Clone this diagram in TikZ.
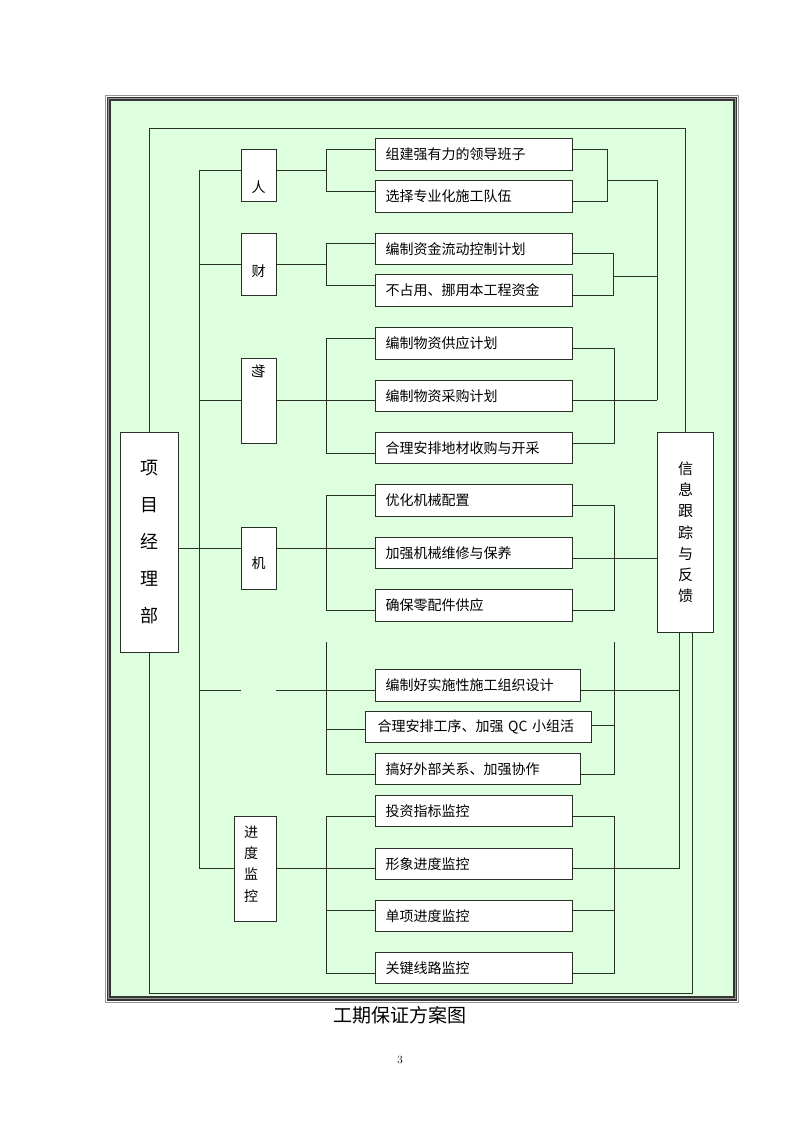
\documentclass[tikz,border=0pt]{standalone}
\usepackage{fontspec}
\newfontfamily\cjk{Noto Sans CJK SC}
\definecolor{lc}{RGB}{40,48,40}
\definecolor{bgg}{RGB}{221,255,221}
\definecolor{frdark}{RGB}{52,52,52}
\definecolor{frgray}{RGB}{150,150,150}
\begin{document}
\begin{tikzpicture}[x=1pt,y=-1pt,
  ln/.style={draw=lc, line width=0.9pt},
  itembox/.style={draw=lc, fill=white, line width=1pt, anchor=north west,
    minimum height=31pt, minimum width=197pt, text width=177pt, inner xsep=10pt,
    inner ysep=0pt, align=left, font=\cjk\fontsize{14}{16}\selectfont},
  catbox/.style={draw=lc, fill=white, line width=1pt, anchor=north west,
    minimum width=35pt, inner sep=0pt},
  cattext/.style={font=\cjk\fontsize{14}{16}\selectfont, inner sep=0pt},
]
\useasboundingbox (0,0) rectangle (800,1132);
% frame
\fill[bgg] (110,100) rectangle (734,997);
\draw[frgray, line width=1pt] (105,95) rectangle (738,1002);
\draw[frdark, line width=4.5pt] (108.75,98.75) rectangle (735,998.5);
\draw[frgray, line width=0.6pt] (108.75,98.75) rectangle (735,998.5);

% main boxes
\node[draw=lc, fill=white, line width=1pt, anchor=north west, minimum width=58pt, minimum height=220pt,
  inner sep=0pt, align=center, font=\cjk\fontsize{18}{37}\selectfont] (pm) at (120,432) {项\\目\\经\\理\\部};
\node[draw=lc, fill=white, line width=1pt, anchor=north west, minimum width=56pt, minimum height=200pt,
  inner sep=0pt, align=center, font=\cjk\fontsize{15}{21.2}\selectfont] (info) at (657,432) {信\\息\\跟\\踪\\与\\反\\馈};

% category boxes
\node[catbox, minimum height=52pt] (ren) at (241,149) {};
\node[cattext] (rent) at (258.5,187) {人};
\node[catbox, minimum height=62pt] (cai) at (241,233) {};
\node[cattext] (cait) at (258.5,271) {财};
\node[catbox, minimum height=85pt] (wu) at (241,358) {};
\node[cattext, rotate=-90] (wut) at (258.5,371) {物};
\node[catbox, minimum height=62pt] (ji) at (241,527) {};
\node[cattext] (jit) at (258.5,563) {机};
\node[catbox, minimum width=42pt, minimum height=105pt] (jd) at (234,816) {};
\node[inner sep=0pt, align=center, font=\cjk\fontsize{14}{21.3}\selectfont] (jdt) at (251,864) {进\\度\\监\\控};
\coordinate (gapL) at (241,690);
\coordinate (gapR) at (276,690);

% items
\node[itembox, minimum height=32pt] (a1) at (375,138) {组建强有力的领导班子};
\node[itembox, minimum height=32pt] (a2) at (375,180) {选择专业化施工队伍};
\node[itembox] (b1) at (375,233) {编制资金流动控制计划};
\node[itembox, minimum height=32pt] (b2) at (375,274) {不占用、挪用本工程资金};
\node[itembox, minimum height=32pt] (c1) at (375,327) {编制物资供应计划};
\node[itembox] (c2) at (375,380) {编制物资采购计划};
\node[itembox] (c3) at (375,432) {合理安排地材收购与开采};
\node[itembox, minimum height=32pt] (d1) at (375,484) {优化机械配置};
\node[itembox] (d2) at (375,537) {加强机械维修与保养};
\node[itembox, minimum height=32pt] (d3) at (375,589) {确保零配件供应};
\node[itembox, minimum width=205pt, text width=185pt, minimum height=32pt] (e1) at (375,669) {编制好实施性施工组织设计};
\node[itembox, minimum width=226pt, text width=202pt, inner xsep=12pt] (e2) at (365,711) {合理安排工序、加强 QC 小组活};
\node[itembox, minimum width=205pt, text width=185pt] (e3) at (375,753) {搞好外部关系、加强协作};
\node[itembox] (f1) at (375,795) {投资指标监控};
\node[itembox] (f2) at (375,848) {形象进度监控};
\node[itembox] (f3) at (375,900) {单项进度监控};
\node[itembox] (f4) at (375,952) {关键线路监控};

% outer loop
\draw[ln] (pm.north) |- (info.north |- 0,128) -- (info.north);
\draw[ln] (pm.south) |- (692,993) -- (info.south -| 692,0);
\draw[ln] (info.south -| 679,0) |- (f2.east |- 0,868);
\draw[ln] (e1.east |- 0,690) -- (679,690);

% main left bus
\coordinate (busT) at (199,170);
\coordinate (busB) at (199,868);
\draw[ln] (busT) -- (busB);

% ren
\draw[ln] (busT) -- (ren.west |- busT);
\draw[ln] (ren.east |- busT) -- (326,170);
\draw[ln] (a1.west |- 0,149) -| (326,191) -- (a2.west |- 0,191);
\draw[ln] (a1.east |- 0,149) -| (607,201) -- (a2.east |- 0,201);
\draw[ln] (607,180) -- (657,180) -- (657,400);

% cai
\draw[ln] (199,264) -- (cai.west |- 0,264);
\draw[ln] (cai.east |- 0,264) -- (326,264);
\draw[ln] (b1.west |- 0,243) -| (326,285) -- (b2.west |- 0,285);
\draw[ln] (b1.east |- 0,253) -| (613,295) -- (b2.east |- 0,295);
\draw[ln] (613,276) -- (657,276);

% wu
\draw[ln] (199,400) -- (wu.west |- 0,400);
\draw[ln] (wu.east |- 0,400) -- (c2.west |- 0,400);
\draw[ln] (c1.west |- 0,338) -| (326,453) -- (c3.west |- 0,453);
\draw[ln] (c1.east |- 0,348) -| (614,443) -- (c3.east |- 0,443);
\draw[ln] (c2.east |- 0,400) -- (657,400);

% ji
\draw[ln] (pm.east |- 0,548) -- (ji.west |- 0,548);
\draw[ln] (ji.east |- 0,548) -- (d2.west |- 0,548);
\draw[ln] (d1.west |- 0,495) -| (326,610) -- (d3.west |- 0,610);
\draw[ln] (d1.east |- 0,505) -| (614,610) -- (d3.east |- 0,610);
\draw[ln] (d2.east |- 0,558) -- (info.west |- 0,558);

% gap group
\draw[ln] (199,690) -- (gapL);
\draw[ln] (gapR) -- (e1.west |- 0,690);
\draw[ln] (326,642) -- (326,774) -- (e3.west |- 0,774);
\draw[ln] (326,729) -- (e2.west |- 0,729);
\draw[ln] (614,642) -- (614,774) -- (e3.east |- 0,774);
\draw[ln] (e2.east |- 0,725) -- (614,725);

% jindu
\draw[ln] (busB) -- (jd.west |- 0,868);
\draw[ln] (jd.east |- 0,868) -- (f2.west |- 0,868);
\draw[ln] (f1.west |- 0,816) -| (326,973) -- (f4.west |- 0,973);
\draw[ln] (326,910) -- (f3.west |- 0,910);
\draw[ln] (f1.east |- 0,816) -| (614,973) -- (f4.east |- 0,973);
\draw[ln] (f3.east |- 0,910) -- (614,910);

% caption
\node[font=\cjk\fontsize{19}{22}\selectfont, inner sep=0pt] (cap) at (400,1015) {工期保证方案图};
\node[font=\fontsize{11}{13}\selectfont, inner sep=0pt] (pg) at (400,1060) {3};
\end{tikzpicture}
\end{document}
